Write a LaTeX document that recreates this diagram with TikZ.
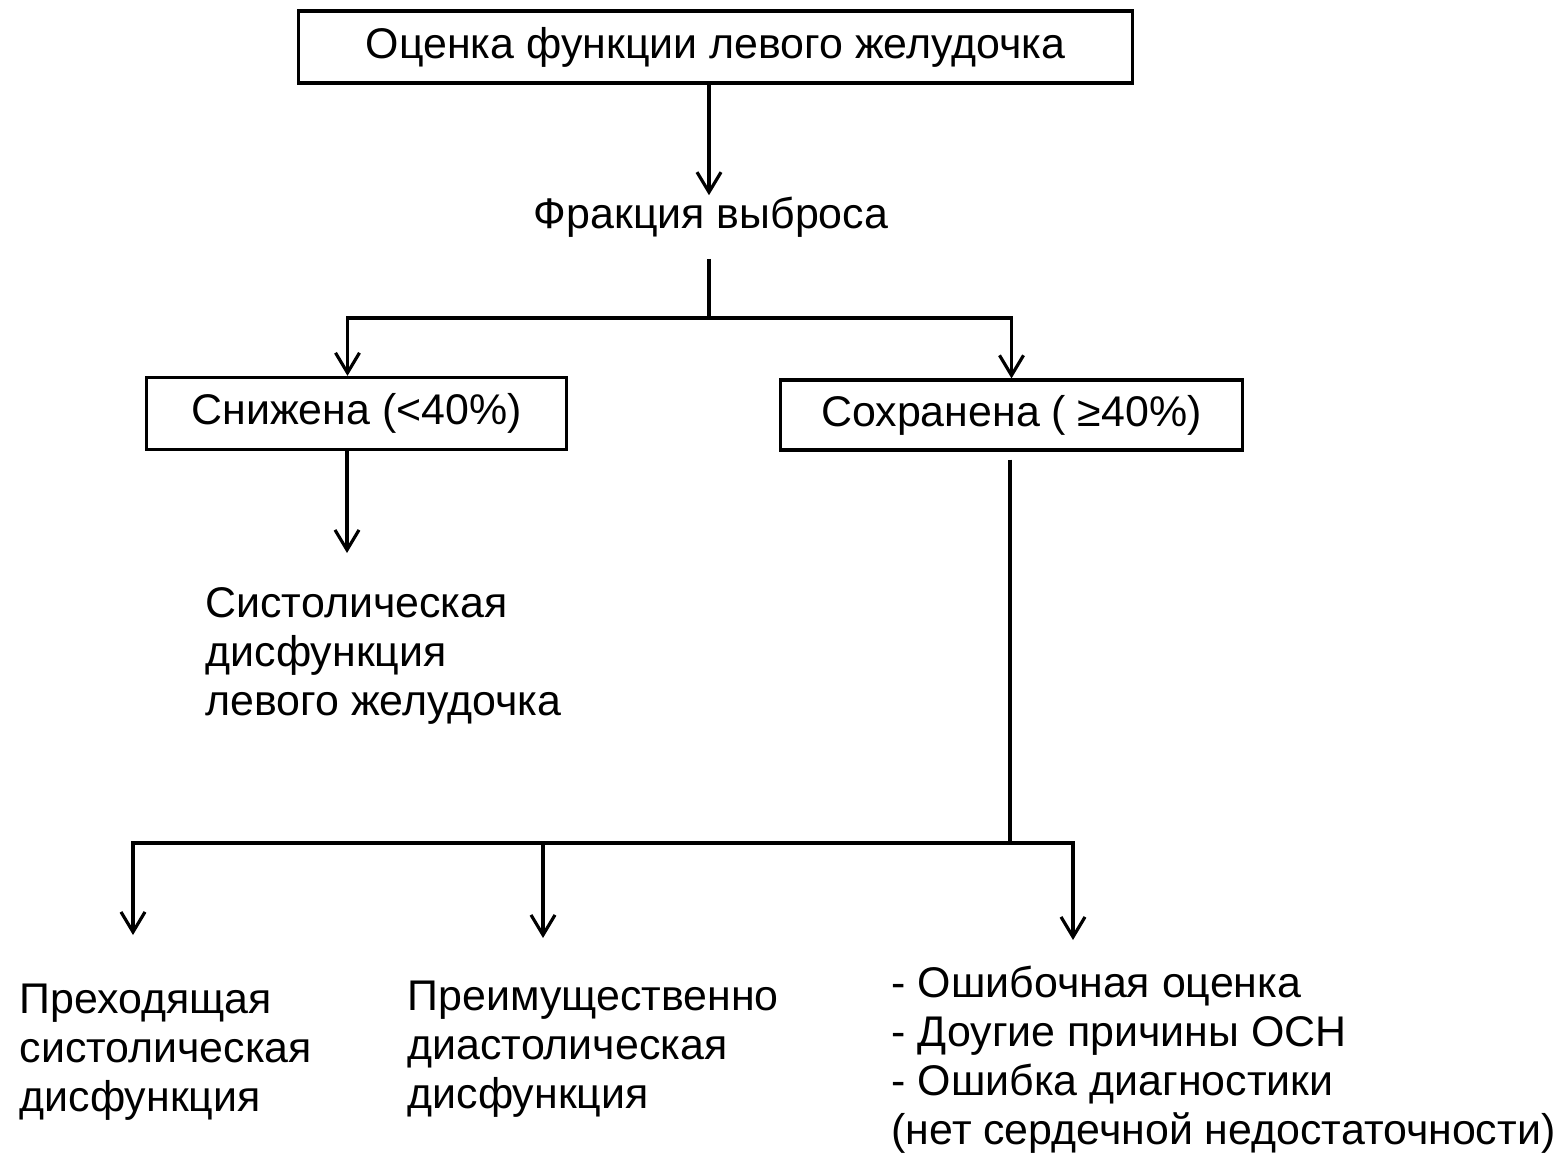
\documentclass[tikz,border=0pt]{standalone}
\usepackage{fontspec}
\setmainfont{Liberation Sans}
\usepackage{tikz}
\usetikzlibrary{arrows.meta,positioning,calc}

\begin{document}
\begin{tikzpicture}[x=0.01cm, y=-0.01cm, every node/.style={font=\fontsize{12.2}{13.9}\selectfont}, >={Straight Barb[length=0.2cm,width=0.24cm]}, line width=0.9pt]
  \useasboundingbox (0,0) rectangle (1564,1155);
  \tikzset{box/.style={draw, line width=0.9pt, inner sep=0pt, minimum height=0.72cm},
           txt/.style={inner sep=0pt, align=left, anchor=west}}
  % boxes and labels
  \node[box, minimum width=8.33cm] (top) at (715.5,47) {Оценка функции левого желудочка};
  \node[inner sep=0pt] (fr) at (711,217) {Фракция выброса};
  \node[box, minimum width=4.19cm] (low) at (356.5,413.5) {Снижена (<40\%)};
  \node[box, minimum width=4.61cm, minimum height=0.70cm] (pres) at (1011.5,415) {Сохранена ( ≥40\%)};
  \node[txt] (sys) at (204,656) {Систолическая\\дисфункция\\левого желудочка};
  \node[txt] (b1) at (18,1052) {Преходящая\\систолическая\\дисфункция};
  \node[txt] (b2) at (406,1049) {Преимущественно\\диастолическая\\дисфункция};
  \node[txt] (b3) at (890,1060) {- Ошибочная оценка\\- Доугие причины ОСН\\- Ошибка диагностики\\(нет сердечной недостаточности)};
  % branch points and arrow ends
  \coordinate (fork1) at (709,318);
  \coordinate (fork2) at (1010,843);
  \coordinate (e0) at (347,553);
  \coordinate (e1) at (133,935);
  \coordinate (e2) at (543,938);
  \coordinate (e3) at (1073,940);
  \draw[->] (top.south -| fork1) -- (fork1 |- fr.north);
  \draw[shorten <=0.2cm] (fork1 |- fr.south) -- (fork1);
  \draw[->] (fork1) -| ([xshift=-0.09cm]low.north);
  \draw[->] (fork1) -| (pres.north);
  \draw[->] (e0 |- low.south) -- (e0);
  \draw[shorten <=0.08cm] (fork2 |- pres.south) -- (fork2);
  \draw[->] (fork2) -| (e1);
  \draw[->] (fork2 -| e2) -- (e2);
  \draw[->] (fork2) -| (e3);
\end{tikzpicture}
\end{document}
